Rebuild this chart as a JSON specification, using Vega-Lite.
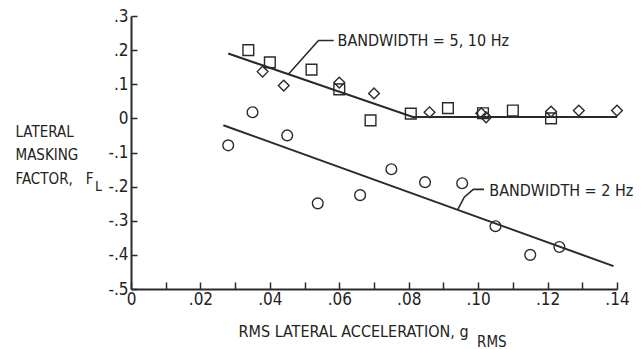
{
  "$schema": "https://vega.github.io/schema/vega-lite/v6.json",
  "width": 486,
  "height": 273,
  "autosize": {"type": "none"},
  "padding": {"left": 131, "top": 16, "right": 25, "bottom": 60},
  "background": "white",
  "config": {
    "view": {"stroke": null},
    "font": "DejaVu Sans Condensed",
    "axis": {"grid": false, "domainColor": "#2a2a2a", "domainWidth": 2, "tickColor": "#2a2a2a", "tickWidth": 1.5, "labelColor": "#222", "titleColor": "#222", "titleFontWeight": "normal", "labelFont": "DejaVu Sans Condensed", "titleFont": "DejaVu Sans Condensed"}
  },
  "datasets": {
    "points": [
      {"x": 0.0338, "y": 0.200, "set": "5 Hz"},
      {"x": 0.0400, "y": 0.164, "set": "5 Hz"},
      {"x": 0.0520, "y": 0.143, "set": "5 Hz"},
      {"x": 0.0600, "y": 0.085, "set": "5 Hz"},
      {"x": 0.0690, "y": -0.006, "set": "5 Hz"},
      {"x": 0.0806, "y": 0.014, "set": "5 Hz"},
      {"x": 0.0913, "y": 0.030, "set": "5 Hz"},
      {"x": 0.1014, "y": 0.015, "set": "5 Hz"},
      {"x": 0.1100, "y": 0.023, "set": "5 Hz"},
      {"x": 0.1210, "y": 0.000, "set": "5 Hz"},
      {"x": 0.0379, "y": 0.137, "set": "10 Hz"},
      {"x": 0.0440, "y": 0.096, "set": "10 Hz"},
      {"x": 0.0600, "y": 0.105, "set": "10 Hz"},
      {"x": 0.0700, "y": 0.073, "set": "10 Hz"},
      {"x": 0.0860, "y": 0.018, "set": "10 Hz"},
      {"x": 0.1009, "y": 0.015, "set": "10 Hz"},
      {"x": 0.1023, "y": 0.003, "set": "10 Hz"},
      {"x": 0.1210, "y": 0.020, "set": "10 Hz"},
      {"x": 0.1290, "y": 0.023, "set": "10 Hz"},
      {"x": 0.1400, "y": 0.023, "set": "10 Hz"},
      {"x": 0.0280, "y": -0.079, "set": "2 Hz"},
      {"x": 0.0350, "y": 0.018, "set": "2 Hz"},
      {"x": 0.0450, "y": -0.050, "set": "2 Hz"},
      {"x": 0.0538, "y": -0.249, "set": "2 Hz"},
      {"x": 0.0660, "y": -0.225, "set": "2 Hz"},
      {"x": 0.0750, "y": -0.149, "set": "2 Hz"},
      {"x": 0.0847, "y": -0.187, "set": "2 Hz"},
      {"x": 0.0954, "y": -0.190, "set": "2 Hz"},
      {"x": 0.1050, "y": -0.316, "set": "2 Hz"},
      {"x": 0.1150, "y": -0.400, "set": "2 Hz"},
      {"x": 0.1234, "y": -0.377, "set": "2 Hz"}
    ],
    "fits": [
      {"x": 0.0280, "y": 0.190, "line": "5, 10 Hz", "order": 1},
      {"x": 0.0812, "y": 0.004, "line": "5, 10 Hz", "order": 2},
      {"x": 0.1400, "y": 0.004, "line": "5, 10 Hz", "order": 3},
      {"x": 0.0266, "y": -0.020, "line": "2 Hz", "order": 1},
      {"x": 0.1390, "y": -0.433, "line": "2 Hz", "order": 2}
    ],
    "leaders": [
      {"x": 0.0454, "y": 0.130, "line": "5, 10 Hz", "order": 1},
      {"x": 0.0540, "y": 0.228, "line": "5, 10 Hz", "order": 2},
      {"x": 0.0584, "y": 0.228, "line": "5, 10 Hz", "order": 3},
      {"x": 0.0942, "y": -0.266, "line": "2 Hz", "order": 1},
      {"x": 0.0960, "y": -0.231, "line": "2 Hz", "order": 2},
      {"x": 0.0986, "y": -0.208, "line": "2 Hz", "order": 3},
      {"x": 0.1017, "y": -0.208, "line": "2 Hz", "order": 4}
    ],
    "labels": [
      {"x": 0.0595, "y": 0.213, "text": "BANDWIDTH = 5, 10 Hz"},
      {"x": 0.1032, "y": -0.2266, "text": "BANDWIDTH = 2 Hz"}
    ]
  },
  "encoding": {
    "x": {"field": "x", "type": "quantitative", "scale": {"domain": [0, 0.14], "nice": false, "zero": false},
      "axis": {
        "values": [0, 0.01, 0.02, 0.03, 0.04, 0.05, 0.06, 0.07, 0.08, 0.09, 0.1, 0.11, 0.12, 0.13, 0.14],
        "labelExpr": "round(datum.value * 100) % 2 == 0 ? (datum.value == 0 ? '0' : replace(format(datum.value, '.2f'), '0.', '.')) : ''",
        "tickSize": -7,
        "labelFontSize": 17,
        "labelPadding": 9,
        "labelFlush": false,
        "labelOverlap": false,
        "title": "RMS LATERAL ACCELERATION, g",
        "titleFontSize": 16,
        "titleAlign": "left",
        "titleBaseline": "alphabetic",
        "titleX": 107,
        "titleY": 47
      }},
    "y": {"field": "y", "type": "quantitative", "scale": {"domain": [-0.5, 0.3], "nice": false, "zero": false},
      "axis": {
        "values": [-0.5, -0.4, -0.3, -0.2, -0.1, 0, 0.1, 0.2, 0.3],
        "labelExpr": "abs(datum.value) < 0.001 ? '0' : (datum.value < 0 ? '-' : '') + replace(format(abs(datum.value), '.1f'), '0.', '.')",
        "tickSize": -6,
        "labelFontSize": 17,
        "labelPadding": 9,
        "labelFlush": false,
        "labelOverlap": false,
        "title": ["LATERAL", "MASKING", "FACTOR,\u00a0\u00a0 F"],
        "titleFontSize": 15,
        "titleAngle": 0,
        "titleAlign": "left",
        "titleBaseline": "alphabetic",
        "titleLineHeight": 23.5,
        "titleX": -116,
        "titleY": 120
      }}
  },
  "layer": [
    {
      "data": {"name": "fits"},
      "mark": {"type": "line", "color": "#2a2a2a", "strokeWidth": 2},
      "encoding": {
        "detail": {"field": "line"},
        "order": {"field": "order"}
      }
    },
    {
      "data": {"name": "leaders"},
      "mark": {"type": "line", "color": "#2a2a2a", "strokeWidth": 1.6},
      "encoding": {
        "detail": {"field": "line"},
        "order": {"field": "order"}
      }
    },
    {
      "data": {"name": "points"},
      "mark": {"type": "point", "filled": false, "stroke": "#2a2a2a", "strokeWidth": 1.4, "size": 115, "opacity": 1},
      "encoding": {
        "shape": {"field": "set", "type": "nominal", "scale": {"domain": ["5 Hz", "10 Hz", "2 Hz"], "range": ["square", "diamond", "circle"]}, "legend": null}
      }
    },
    {
      "data": {"name": "labels"},
      "mark": {"type": "text", "align": "left", "baseline": "alphabetic", "fontSize": 16, "color": "#222"},
      "encoding": {"text": {"field": "text"}}
    },
    {
      "data": {"values": [{"x": 0.0997, "y": -0.5, "text": "RMS"}]},
      "mark": {"type": "text", "align": "left", "baseline": "alphabetic", "fontSize": 15, "color": "#222", "dy": 57.5},
      "encoding": {"text": {"field": "text"}}
    },
    {
      "data": {"values": [{"x": 0, "y": -0.2, "text": "L"}]},
      "mark": {"type": "text", "align": "left", "baseline": "alphabetic", "fontSize": 14, "color": "#222", "dx": -36, "dy": 4},
      "encoding": {"text": {"field": "text"}}
    }
  ]
}
